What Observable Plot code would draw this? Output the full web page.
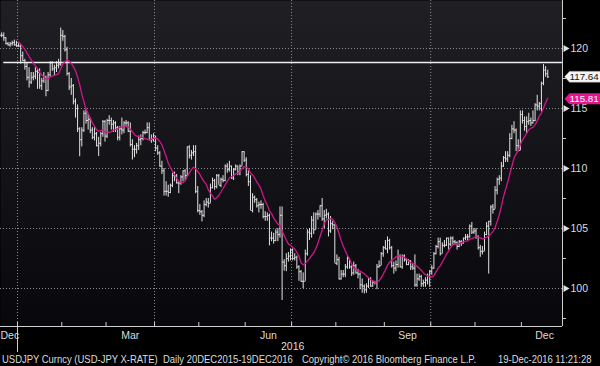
<!DOCTYPE html>
<html><head><meta charset="utf-8">
<script src="https://cdn.jsdelivr.net/npm/d3@7"></script>
<script src="https://cdn.jsdelivr.net/npm/@observablehq/plot@0.6"></script>
<style>
html,body{margin:0;padding:0;background:#000;}
#chart{width:600px;height:352px;overflow:hidden;}
#caption{position:relative;width:600px;height:14px;overflow:hidden;
  font-family:'Liberation Sans',Arial,sans-serif;font-size:11px;line-height:14px;color:#dcdcdc;white-space:nowrap;}
#caption span{position:absolute;top:0;transform:scaleX(0.86);transform-origin:0 50%;}
</style></head><body>
<div id="chart"></div>
<div id="caption"></div>
<script>
// ---- data (daily bars, 21-Dec-2015 .. 19-Dec-2016, weekdays) ----
const startDate = "2015-12-21";
const opens = [
 121.2,121.1,121.1,120.9,120.4,120.3,120.4,120.5,120.3,
 120.2,120.2,119.4,119.0,118.5,117.6,117.2,117.6,117.7,118.1,118.0,116.9,117.3,117.6,116.5,117.8,118.8,118.3,118.4,118.6,118.7,
 121.1,121.0,119.9,117.9,116.8,116.9,115.6,115.0,113.3,112.4,113.2,114.6,114.0,114.1,113.2,112.6,112.9,111.9,112.1,112.9,113.9,
 112.7,114.0,114.0,113.7,113.8,113.4,112.6,113.3,113.2,113.8,113.8,113.1,112.0,111.6,111.6,111.9,112.4,112.5,113.0,113.0,113.4,112.4,112.4,
 112.6,111.7,111.3,110.2,109.8,108.1,108.1,108.0,108.6,109.4,109.4,108.8,108.8,109.3,109.8,109.4,111.8,111.1,111.3,111.4,108.1,
 106.5,106.4,106.1,107.0,107.2,107.1,108.4,109.0,108.5,109.4,108.6,109.1,109.0,110.2,109.9,110.2,109.2,109.9,110.2,109.7,110.2,111.4,
 110.7,109.5,108.9,106.5,107.6,107.4,106.9,107.0,107.0,106.0,106.0,106.1,104.2,104.2,104.0,104.7,104.5,106.1,102.2,101.9,102.5,102.7,
 103.2,102.5,102.6,101.8,101.4,100.6,100.6,102.9,104.7,104.6,105.7,104.9,106.2,106.2,106.9,105.8,106.1,106.2,104.8,105.4,105.3,
 102.1,102.4,100.8,101.2,101.2,101.8,102.5,101.8,101.3,101.9,101.3,101.2,100.3,100.2,99.9,100.2,100.8,100.2,100.5,100.5,101.8,101.9,102.9,
 103.4,103.3,104.0,103.4,101.9,101.7,102.0,102.7,101.8,102.7,102.4,102.0,102.3,101.8,101.7,100.3,100.8,101.0,100.4,100.5,100.7,101.0,
 101.4,101.7,102.9,103.5,103.9,102.9,103.6,103.6,104.2,103.7,104.2,103.9,103.8,103.5,103.9,103.8,104.2,104.3,104.3,105.2,104.7,
 104.8,104.3,103.4,103.1,103.1,104.5,105.2,105.6,106.8,106.6,108.2,109.1,109.2,110.2,110.9,110.8,111.1,112.5,113.3,113.2,111.9,111.5,
 114.5,114.0,113.5,113.9,114.0,113.8,114.0,115.3,115.2,115.4,117.1,118.2,117.9
];
const highs = [
 121.5,121.3,121.3,120.9,120.5,120.5,120.6,120.7,120.6,
 120.4,120.3,119.7,119.1,118.8,118.4,118.0,118.0,118.4,118.3,118.3,117.5,118.0,117.7,118.0,118.9,118.9,118.6,118.9,119.1,121.7,
 121.5,121.1,120.1,118.0,117.5,117.0,115.8,115.3,113.4,113.4,114.8,114.9,114.5,114.2,113.4,113.4,113.0,112.6,113.0,114.0,114.0,
 114.1,114.4,114.2,114.0,113.9,113.5,113.5,114.2,113.9,114.0,113.9,113.8,112.4,111.9,112.1,112.7,112.8,113.1,113.2,113.8,113.8,112.8,112.9,
 112.7,111.9,111.4,110.6,110.0,108.9,108.6,108.7,109.6,109.7,109.5,108.9,109.4,109.8,109.9,111.8,111.9,111.5,111.9,111.9,108.5,
 107.0,106.5,107.3,107.5,107.5,108.7,109.2,109.1,109.5,109.5,109.2,109.4,110.3,110.4,110.6,110.2,110.0,110.3,110.2,110.3,111.4,111.4,
 110.9,109.8,109.4,107.9,107.7,107.5,107.2,107.3,107.1,106.4,106.3,106.2,104.7,104.6,104.9,105.0,106.8,106.8,102.4,102.9,103.0,103.3,
 103.3,102.9,102.7,101.9,101.5,101.3,103.2,104.9,105.0,106.0,106.3,106.3,106.5,106.9,107.5,106.5,106.6,106.3,106.0,105.6,105.3,
 102.8,102.6,101.5,101.5,102.0,102.7,102.5,101.9,102.2,102.0,101.6,101.3,100.8,100.3,100.4,100.9,100.9,100.6,100.6,102.0,102.3,103.0,103.5,
 104.0,104.3,104.1,103.5,102.2,102.3,103.2,102.8,102.8,102.8,102.5,102.4,102.3,102.0,102.8,101.2,101.2,101.1,100.7,100.9,101.2,101.5,
 101.9,103.0,103.6,104.2,104.2,103.8,104.0,104.2,104.2,104.3,104.3,104.0,103.9,104.0,104.0,104.2,104.5,104.5,105.3,105.5,105.0,
 105.0,104.4,103.6,103.5,104.7,105.5,105.6,106.9,107.0,108.5,109.2,109.4,110.5,111.0,111.4,111.4,112.9,113.6,113.9,113.3,112.4,114.8,
 114.8,114.3,114.3,114.6,114.2,114.8,115.4,116.1,115.5,117.2,118.66,118.5,118.2
];
const lows = [
 120.9,120.9,120.6,120.3,120.2,120.1,120.2,120.2,120.1,
 120.1,118.7,118.9,118.2,117.3,116.7,117.0,117.3,117.4,116.6,116.6,116.5,117.1,115.98,116.4,117.6,118.1,117.7,118.0,118.3,118.5,
 120.6,119.7,117.7,116.5,116.1,115.3,114.2,113.0,110.98,111.8,113.0,113.7,113.2,112.9,112.4,112.3,111.8,111.0,111.8,112.6,112.2,
 112.5,113.6,113.2,113.0,113.0,112.3,112.3,112.8,112.9,113.4,113.0,111.8,110.7,110.9,111.2,111.5,111.9,112.3,112.8,112.9,112.3,112.1,112.2,
 111.4,111.1,110.1,109.5,107.7,107.7,107.6,107.9,108.4,108.9,108.7,107.9,108.6,108.9,109.0,109.3,110.8,110.7,111.0,107.9,106.3,
 106.1,105.55,105.9,106.8,106.7,107.1,108.3,108.2,108.3,108.6,108.4,108.8,108.9,109.6,109.7,109.1,109.0,109.8,109.4,109.4,110.2,110.5,
 109.3,108.5,106.5,106.3,107.1,106.7,106.3,106.6,105.8,105.6,105.6,103.55,103.9,103.7,103.9,103.9,104.2,99.0,101.45,101.4,102.2,102.3,
 102.3,102.3,101.6,100.6,100.5,99.97,100.6,102.7,104.0,104.2,104.5,104.9,105.7,105.9,105.6,105.0,105.8,104.3,104.6,104.9,102.1,
 101.9,100.7,100.7,100.9,100.9,101.6,101.6,101.0,101.1,101.2,100.8,99.9,99.6,99.55,99.6,100.0,100.1,100.1,100.3,99.9,101.7,101.9,102.6,
 103.2,102.9,103.2,101.7,101.2,101.4,101.7,101.7,101.6,102.2,101.9,101.9,101.5,101.5,100.1,100.1,100.6,100.1,100.1,100.1,100.3,100.1,
 101.1,101.6,102.8,103.3,102.7,102.9,103.4,103.5,103.2,103.5,103.6,103.6,103.2,103.4,103.5,103.7,104.0,104.0,104.2,104.5,104.5,
 104.1,103.2,102.6,102.8,103.1,104.4,101.2,105.2,106.2,106.6,107.8,108.6,108.9,110.1,110.5,110.5,110.9,112.4,112.9,111.4,111.4,111.5,
 113.7,113.1,112.9,113.6,113.5,113.7,113.9,114.8,114.8,114.7,116.9,117.6,117.5
];
const closes = [
 121.1,121.1,120.9,120.4,120.3,120.4,120.5,120.3,120.2,
 120.2,119.4,119.0,118.5,117.6,117.2,117.6,117.7,118.1,118.0,116.9,117.3,117.6,116.5,117.8,118.8,118.3,118.4,118.6,118.7,121.1,
 121.0,119.9,117.9,116.8,116.9,115.6,115.0,113.3,112.4,113.2,114.6,114.0,114.1,113.2,112.6,112.9,111.9,112.1,112.9,113.9,112.7,
 114.0,114.0,113.7,113.8,113.4,112.6,113.3,113.2,113.8,113.8,113.1,112.0,111.6,111.6,111.9,112.4,112.5,113.0,113.0,113.4,112.4,112.4,112.6,
 111.7,111.3,110.2,109.8,108.1,108.1,108.0,108.6,109.4,109.4,108.8,108.8,109.3,109.8,109.4,111.8,111.1,111.3,111.4,108.1,106.5,
 106.4,106.1,107.0,107.2,107.1,108.4,109.0,108.5,109.4,108.6,109.1,109.0,110.2,109.9,110.2,109.2,109.9,110.2,109.7,110.2,111.4,110.7,
 109.5,108.9,106.5,107.6,107.4,106.9,107.0,107.0,106.0,106.0,106.1,104.2,104.2,104.0,104.7,104.5,106.1,102.2,101.9,102.5,102.7,103.2,
 102.5,102.6,101.8,101.4,100.6,100.6,102.9,104.7,104.6,105.7,104.9,106.2,106.2,106.9,105.8,106.1,106.2,104.8,105.4,105.3,102.1,
 102.4,100.8,101.2,101.2,101.8,102.5,101.8,101.3,101.9,101.3,101.2,100.3,100.2,99.9,100.2,100.8,100.2,100.5,100.5,101.8,101.9,102.9,103.4,
 103.3,104.0,103.4,101.9,101.7,102.0,102.7,101.8,102.7,102.4,102.0,102.3,101.8,101.7,100.3,100.8,101.0,100.4,100.5,100.7,101.0,101.4,
 101.7,102.9,103.5,103.9,102.9,103.6,103.6,104.2,103.7,104.2,103.9,103.8,103.5,103.9,103.8,104.2,104.3,104.3,105.2,104.7,104.8,
 104.3,103.4,103.1,103.1,104.5,105.2,105.6,106.8,106.6,108.2,109.1,109.2,110.2,110.9,110.8,111.1,112.5,113.3,113.2,111.9,111.5,114.5,
 114.0,113.5,113.9,114.0,113.8,114.0,115.3,115.2,115.4,117.1,118.2,117.9,117.64
];
const maWindow = 10;
const lastLabel = "117.64";
const maLabel = "115.81";
const lastValue = 117.64;
const maValue = 115.81;
const refLevel = 118.83;
const refStart = "2015-12-23";
const yTicks = [100, 105, 110, 115, 120];
const yMinorTicks = [97.5, 102.5, 107.5, 112.5, 117.5, 122.5];
const monthLabels = ["Dec", "Mar", "Jun", "Sep", "Dec"];
const labelMonths = ["2015-12", "2016-03", "2016-06", "2016-09", "2016-12"];
const gridMonths = ["2016-01", "2016-04", "2016-07", "2016-10"];
const yearLabel = "2016";
const captionParts = ["USDJPY Curncy (USD-JPY X-RATE)", "Daily 20DEC2015-19DEC2016", "Copyright\u00A9 2016 Bloomberg Finance L.P.", "19-Dec-2016 11:21:28"];
const captionLefts = [2, 163, 302, 498];

// ---- derived trading-day index ----
const fmtMonth = d3.utcFormat("%Y-%m");
const fmtDay = d3.utcFormat("%Y-%m-%d");
const calendar = d3.utcDay.range(new Date(Date.UTC(2015, 11, 1)), new Date(Date.UTC(2017, 0, 1)))
  .filter(d => d.getUTCDay() !== 0 && d.getUTCDay() !== 6);
const i0 = calendar.findIndex(d => fmtDay(d) === startDate);
const cal = calendar.map((d, k) => ({date: d, i: k - i0, month: fmtMonth(d), day: fmtDay(d)}));
const bars = closes.map((c, k) => ({i: k, open: opens[k], high: highs[k], low: lows[k], close: c}));
const firstIdx = m => cal.find(c => c.month === m).i;
const midIdx = m => d3.mean(cal.filter(c => c.month === m), c => c.i);
const monthKeys = d3.utcMonths(new Date(Date.UTC(2016, 0, 1)), new Date(Date.UTC(2017, 0, 1))).map(fmtMonth);
const monthBounds = monthKeys.map(m => firstIdx(m) - 0.5);
const gridBounds = gridMonths.map(m => firstIdx(m) - 0.5);
const labelData = monthLabels.map((t, k) => ({text: t, pos: midIdx(labelMonths[k])}));
const yearPos = d3.mean(cal.filter(c => c.date.getUTCFullYear() === 2016), c => c.i);
const refStartIdx = cal.find(c => c.day === refStart).i;

// ---- layout ----
const X0 = 0.436, X1 = 267.0;
const Y0 = 96.833, Y1 = 124;
const font = "'Liberation Sans',Arial,sans-serif";
const txt = "#dcdcdc";
const magenta = "#d1168b";

const defsMark = () => {
  const defs = d3.create("svg:defs");
  const lg = defs.append("linearGradient").attr("id", "bbgBg").attr("x1", 0).attr("y1", 0).attr("x2", 0).attr("y2", 1);
  lg.append("stop").attr("offset", "0%").attr("stop-color", "#1f1f24");
  lg.append("stop").attr("offset", "100%").attr("stop-color", "#08080c");
  return defs.node();
};
const tagSymbol = {draw(ctx) { ctx.moveTo(-18, 0); ctx.lineTo(-13, -5.5); ctx.lineTo(18, -5.5); ctx.lineTo(18, 5.5); ctx.lineTo(-13, 5.5); ctx.closePath(); }};

const plot = Plot.plot({
  width: 600, height: 352,
  marginLeft: 0, marginTop: 0, marginRight: 38, marginBottom: 26,
  x: {domain: [X0, X1], axis: null},
  y: {domain: [Y0, Y1], axis: null},
  style: {background: "#000", color: txt, fontFamily: font, fontSize: "10.5px"},
  marks: [
    defsMark,
    Plot.frame({fill: "url(#bbgBg)", stroke: null}),
    Plot.ruleY(yTicks, {stroke: "#8c8c8c", strokeDasharray: "1,2", strokeWidth: 1}),
    Plot.ruleX(gridBounds, {stroke: "#8c8c8c", strokeDasharray: "1,2", strokeWidth: 1}),
    // OHLC bars
    Plot.ruleX(bars, {x: "i", y1: "low", y2: "high", stroke: "#e2e2e2", strokeWidth: 1, clip: true}),
    Plot.link(bars, {x1: d => d.i - 0.5, x2: "i", y1: "open", y2: "open", stroke: "#e2e2e2", strokeWidth: 1, clip: true}),
    Plot.link(bars, {x1: "i", x2: d => d.i + 0.5, y1: "close", y2: "close", stroke: "#e2e2e2", strokeWidth: 1, clip: true}),
    // reference line
    Plot.ruleY([refLevel], {x1: () => refStartIdx, x2: () => X1, stroke: "#efefef", strokeWidth: 1.5}),
    // moving average
    Plot.lineY(bars, Plot.windowY({k: maWindow, anchor: "end", strict: true}, {x: "i", y: "close", stroke: magenta, strokeWidth: 1.3, clip: true})),
    // axes lines
    Plot.ruleX([X1], {stroke: "#cfcfcf", strokeWidth: 1}),
    Plot.ruleY([Y0], {stroke: "#cfcfcf", strokeWidth: 1}),
    // x ticks
    Plot.ruleX(monthBounds, {y1: () => Y0, y2: () => Y0, insetTop: -4, stroke: "#cfcfcf"}),
    Plot.ruleX([firstIdx("2016-01") - 0.5], {y1: () => Y0, y2: () => Y0, insetBottom: -26, stroke: "#cfcfcf"}),
    Plot.text(labelData.slice(0, 1), {x: () => X0, y: () => Y0, text: "text", dy: 9, dx: 0, textAnchor: "start", fill: txt}),
    Plot.text(labelData.slice(1), {x: "pos", y: () => Y0, text: "text", dy: 9, fill: txt}),
    Plot.text([yearLabel], {x: () => yearPos, y: () => Y0, text: d => d, dy: 20, fill: txt}),
    // y ticks
    Plot.ruleY(yMinorTicks, {x1: () => X1, x2: () => X1, insetRight: -4, stroke: "#cfcfcf"}),
    Plot.dot(yTicks, {x: () => X1, y: d => d, symbol: "triangle", r: 2.6, rotate: 90, dx: 3, fill: "#e0e0e0", stroke: null}),
    Plot.text(yTicks, {x: () => X1, y: d => d, text: d => String(d), dx: 8, textAnchor: "start", fill: txt, fontSize: 10.5, dy: 0.5}),
    // value tags
    Plot.dot([lastValue], {x: () => X1, y: d => d, symbol: tagSymbol, r: 5, dx: 20, fill: "#f4f4f4", stroke: "#888", strokeWidth: 0.5}),
    Plot.text([lastValue], {x: () => X1, y: d => d, text: () => lastLabel, dx: 7, textAnchor: "start", fill: "#111", fontSize: 9.8}),
    Plot.dot([maValue], {x: () => X1, y: d => d, symbol: tagSymbol, r: 5, dx: 20, fill: "#e3168f", stroke: null}),
    Plot.text([maValue], {x: () => X1, y: d => d, text: () => maLabel, dx: 7, textAnchor: "start", fill: "#fff", fontSize: 9.8})
  ]
});
document.getElementById("chart").appendChild(plot);
const cap = document.getElementById("caption");
captionParts.forEach((t, k) => { const s = document.createElement("span"); s.textContent = t; s.style.left = captionLefts[k] + "px"; cap.appendChild(s); });
</script>
</body></html>
